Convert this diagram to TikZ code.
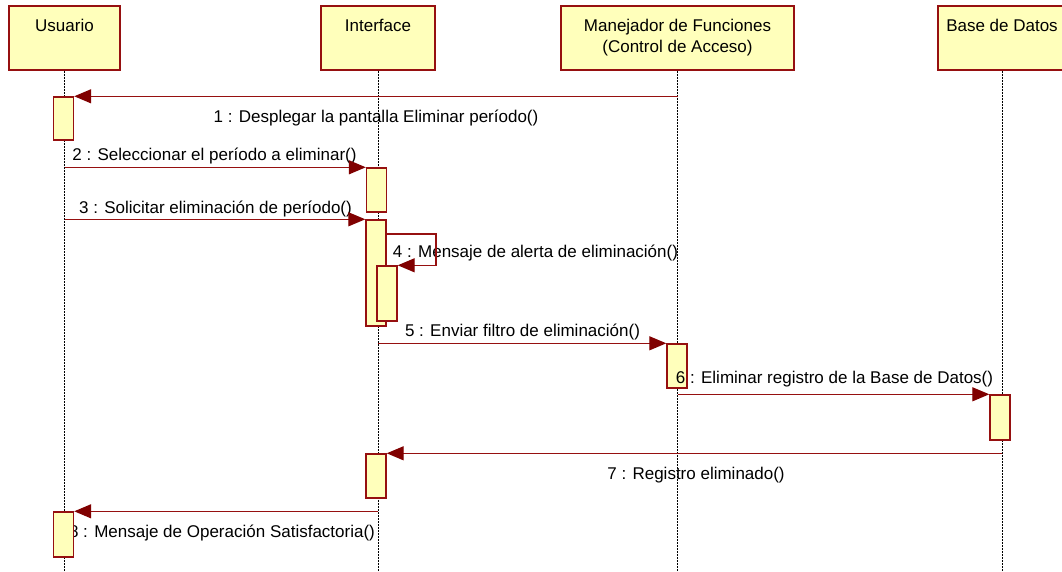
\documentclass[tikz,border=0pt]{standalone}
\usepackage{fontspec}
\setmainfont{Liberation Sans}
\usetikzlibrary{arrows.meta}
\definecolor{brd}{RGB}{150,16,16}
\definecolor{arr}{RGB}{128,0,0}
\definecolor{yel}{RGB}{255,255,187}
\tikzset{
  hdr/.style={draw=brd, fill=yel, line width=1.5pt, inner sep=0pt, minimum height=64pt},
  hdrtxt/.style={inner sep=0pt, anchor=base, font=\fontsize{17}{20}\selectfont},
  actbar/.style={draw=brd, fill=yel, line width=1.4pt, inner sep=0pt, minimum width=20pt},
  life/.style={draw=black, line width=1pt, dash pattern=on 2pt off 1pt},
  msg/.style={draw=brd, line width=1.3pt, -{Triangle[length=17pt,width=14pt,fill=arr,color=arr]}},
  lbl/.style={inner sep=0pt, anchor=base, font=\fontsize{17}{20}\selectfont}
}
\begin{document}
\begin{tikzpicture}[x=1pt,y=-1pt]
\useasboundingbox (0,0) rectangle (1062,572);
\begin{scope}
\clip (0,0) rectangle (1062,572);
% headers
\node[hdr, minimum width=111pt] (hu) at (64.5,38) {};
\node[hdr, minimum width=114pt] (hi) at (378,38) {};
\node[hdr, minimum width=233pt] (hm) at (677.5,38) {};
\node[hdr, minimum width=128pt] (hb) at (1002,38) {};
\end{scope}
\node[hdrtxt] (tu) at (64.5,32) {Usuario};
\node[hdrtxt] (ti) at (378,32) {Interface};
\node[hdrtxt] (tm1) at (677.5,32) {Manejador de Funciones};
\node[hdrtxt] (tm2) at (677.5,53) {(Control de Acceso)};
\node[hdrtxt] (tb) at (1002,32) {Base de Datos};
% lifelines
\coordinate (bot) at (0,572);
\draw[life] (hu.south) -- (hu.south |- bot);
\draw[life] (hi.south) -- (hi.south |- bot);
\draw[life] (hm.south) -- (hm.south |- bot);
\draw[life] (hb.south) -- (hb.south |- bot);
% label drawn under its bar
\node[lbl] (l8) at (222,537) {8 : Mensaje de Operación Satisfactoria()};
% activation bars
\node[actbar, minimum height=43pt] (ub1) at (63.5,118.5) {};
\node[actbar, minimum height=44pt] (ib1) at (376.5,190) {};
\node[actbar, minimum height=106pt] (ib2) at (376,273) {};
\node[actbar, minimum height=55pt] (ib2n) at (387,293.5) {};
\node[actbar, minimum height=44pt] (mb) at (677,366) {};
\node[actbar, minimum height=45pt] (bb) at (1000,417.5) {};
\node[actbar, minimum height=44pt] (ib3) at (376,476) {};
\node[actbar, minimum height=45pt] (ub2) at (63.5,534.5) {};
% labels
\node[lbl] (l1) at (376,123) {1 : Desplegar la pantalla Eliminar período()};
\node[lbl] (l2) at (214.5,161) {2 : Seleccionar el período a eliminar()};
\node[lbl] (l3) at (215.5,213) {3 : Solicitar eliminación de período()};
\node[lbl] (l4) at (535.5,257) {4 : Mensaje de alerta de eliminación()};
\node[lbl] (l5) at (522.5,336) {5 : Enviar filtro de eliminación()};
\node[lbl] (l6) at (834.5,383) {6 : Eliminar registro de la Base de Datos()};
\node[lbl] (l7) at (696,479) {7 : Registro eliminado()};
% messages
\draw[msg] (hm.south |- ub1.north) -- (ub1.north east);
\draw[msg] (hu.south |- ib1.north) -- (ib1.north west);
\draw[msg] (hu.south |- ib2.north) -- (ib2.north west);
\coordinate (s4) at (386,234);
\draw[msg] (s4) -- ++(50,0) |- (ib2n.north east);
\draw[msg] (hi.south |- mb.north) -- (mb.north west);
\draw[msg] (hm.south |- bb.north) -- (bb.north west);
\draw[msg] (hb.south |- ib3.north) -- (ib3.north east);
\draw[msg] (hi.south |- ub2.north) -- (ub2.north east);
\end{tikzpicture}
\end{document}
